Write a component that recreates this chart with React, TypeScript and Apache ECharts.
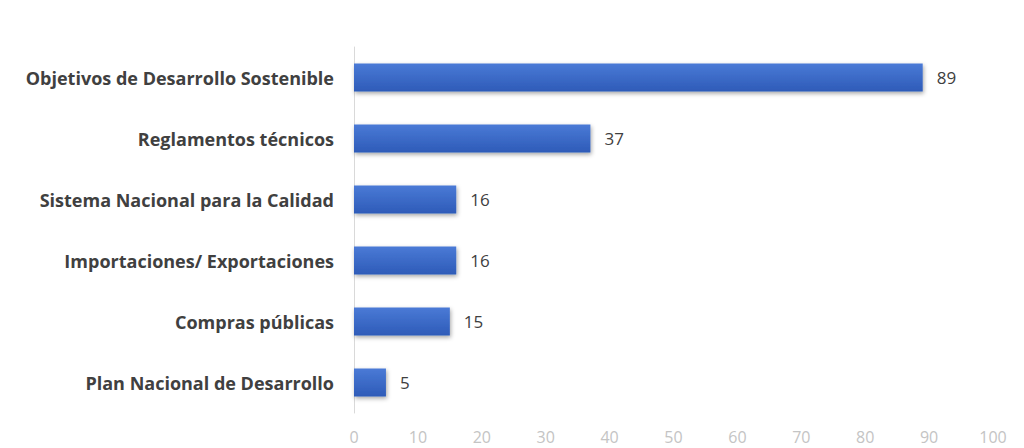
import React, { useEffect, useRef } from "react";
import * as echarts from "echarts";

const categories = [
  "Objetivos de Desarrollo Sostenible",
  "Reglamentos técnicos",
  "Sistema Nacional para la Calidad",
  "Importaciones/ Exportaciones",
  "Compras públicas",
  "Plan Nacional de Desarrollo",
];
const values = [89, 37, 16, 16, 15, 5];
const xTicks = { min: 0, max: 100, interval: 10 };

export default function App() {
  const ref = useRef<HTMLDivElement>(null);
  useEffect(() => {
    if (!ref.current) return;
    const chart = echarts.init(ref.current, null, { renderer: "svg" });
    chart.setOption({
      animation: false,
      backgroundColor: "#ffffff",
      grid: { left: 354, right: 31, top: 47, bottom: 35, containLabel: false },
      xAxis: {
        type: "value",
        min: xTicks.min,
        max: xTicks.max,
        interval: xTicks.interval,
        axisLine: { show: false },
        axisTick: { show: false },
        splitLine: { show: false },
        axisLabel: {
          color: "#c4c4c4",
          fontFamily: "Open Sans",
          fontSize: 16,
          margin: 16,
        },
      },
      yAxis: {
        type: "category",
        data: categories.slice().reverse(),
        inverse: false,
        axisLine: { show: true, lineStyle: { color: "#d9d9d9", width: 1 } },
        axisTick: { show: false },
        axisLabel: {
          color: "#404040",
          fontFamily: "Open Sans",
          fontWeight: "bold",
          fontSize: 18,
          margin: 20,
        },
      },
      series: [
        {
          type: "bar",
          data: values.slice().reverse(),
          barWidth: 28,
          itemStyle: {
            color: new echarts.graphic.LinearGradient(0, 0, 0, 1, [
              { offset: 0, color: "#4a7ad6" },
              { offset: 1, color: "#2e5bb8" },
            ]),
            shadowColor: "rgba(0,0,0,0.35)",
            shadowBlur: 4,
            shadowOffsetX: 1,
            shadowOffsetY: 2,
          },
          label: {
            show: true,
            position: "right",
            distance: 14,
            color: "#404040",
            fontFamily: "Open Sans",
            fontSize: 17,
          },
        },
      ],
    });
    return () => chart.dispose();
  }, []);
  return (
    <div
      ref={ref}
      style={{ position: "fixed", left: 0, top: 0, width: 1024, height: 448 }}
    />
  );
}
